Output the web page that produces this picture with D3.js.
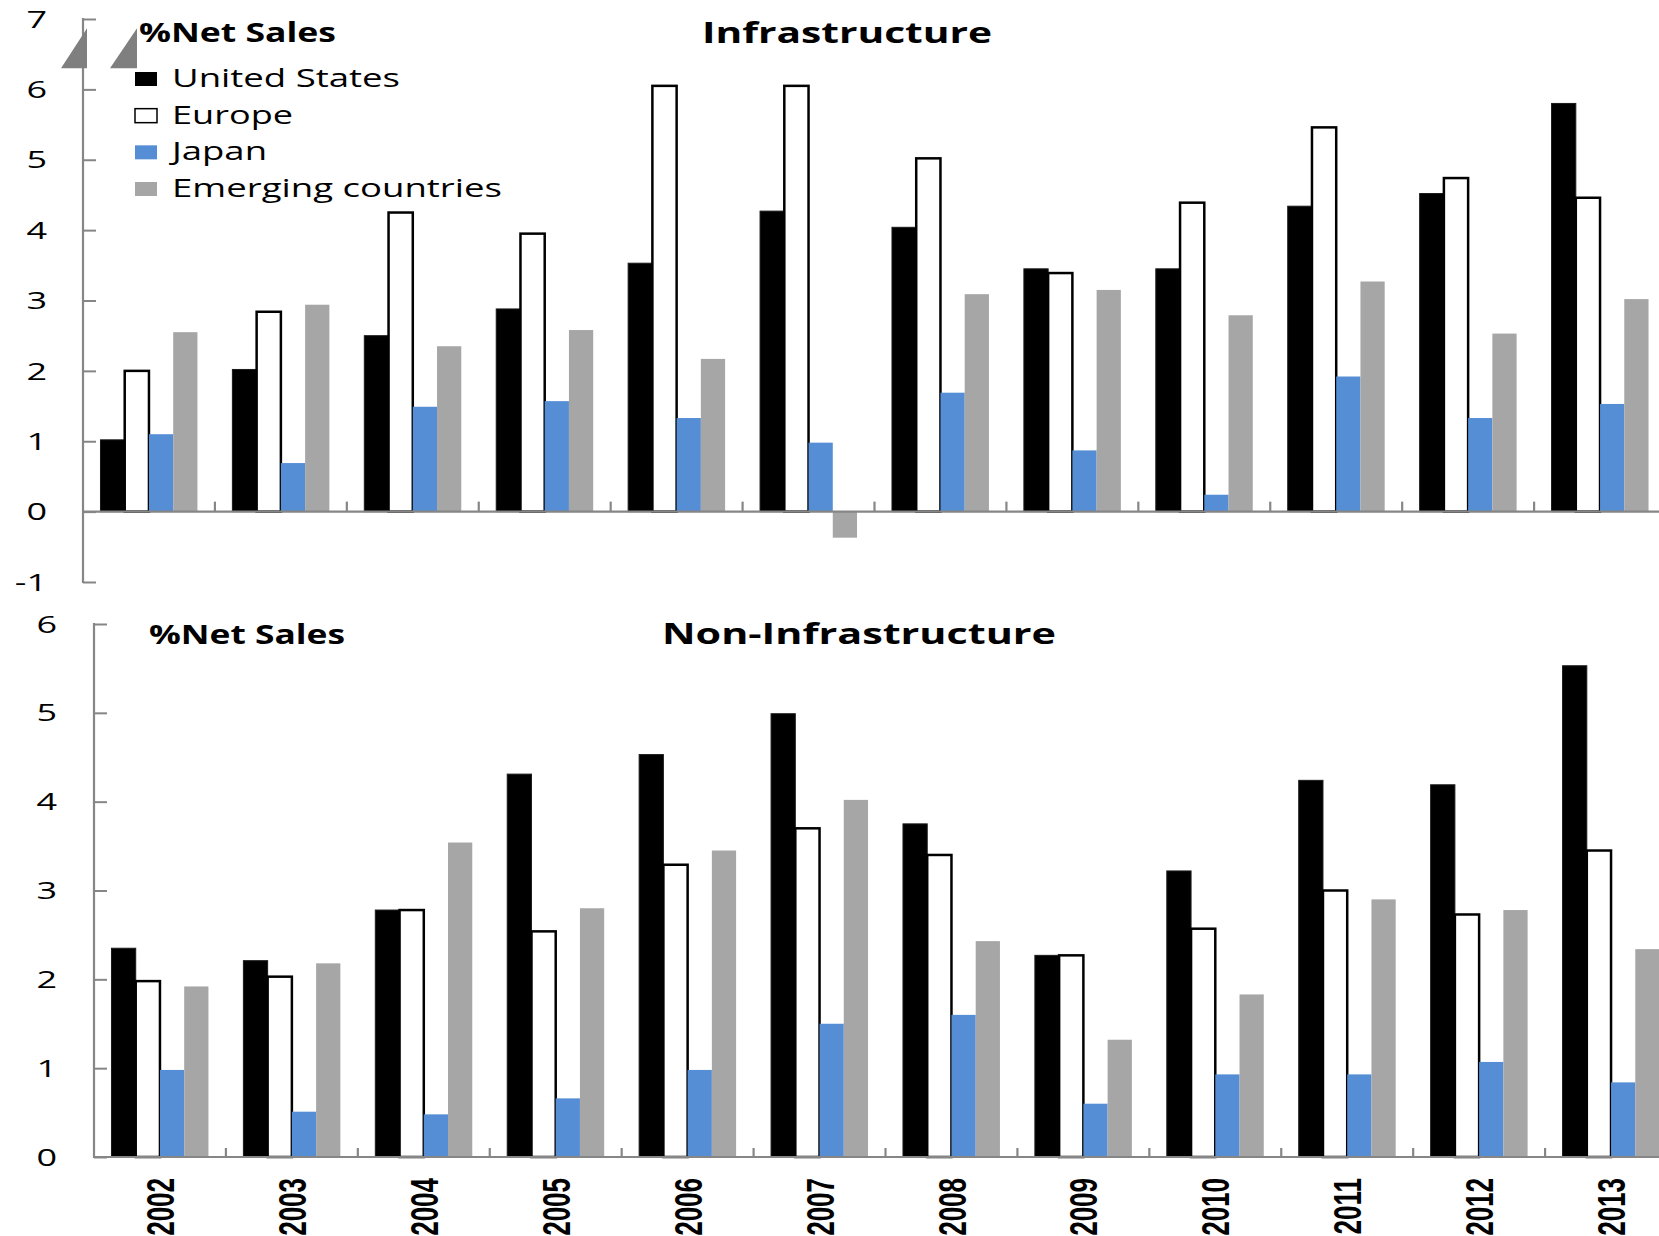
<!DOCTYPE html>
<html><head><meta charset="utf-8">
<script src="https://cdn.jsdelivr.net/npm/d3@7"></script>
<style>html,body{margin:0;padding:0;background:#fff;overflow:hidden;}svg{display:block;}</style>
</head><body>
<script>
const years = ['2002','2003','2004','2005','2006','2007','2008','2009','2010','2011','2012','2013'];
const seriesNames = ['United States','Europe','Japan','Emerging countries'];
const seriesColors = ['#000000','#ffffff','#558ED5','#A6A6A6'];
const infraUS = [1.02,2.02,2.50,2.88,3.53,4.27,4.04,3.45,3.45,4.34,4.52,5.80];
const infraEU = [2.00,2.84,4.25,3.95,6.05,6.05,5.02,3.39,4.39,5.46,4.74,4.46];
const infraJP = [1.10,0.69,1.49,1.57,1.33,0.98,1.69,0.87,0.24,1.92,1.33,1.53];
const infraEM = [2.55,2.94,2.35,2.58,2.17,-0.37,3.09,3.15,2.79,3.27,2.53,3.02];
const nonUS = [2.35,2.21,2.78,4.31,4.53,4.99,3.75,2.27,3.22,4.24,4.19,5.53];
const nonEU = [1.98,2.03,2.78,2.54,3.29,3.70,3.40,2.27,2.57,3.00,2.73,3.45];
const nonJP = [0.98,0.51,0.48,0.66,0.98,1.50,1.60,0.60,0.93,0.93,1.07,0.84];
const nonEM = [1.92,2.18,3.54,2.80,3.45,4.02,2.43,1.32,1.83,2.90,2.78,2.34];
const topTicks = [-1,0,1,2,3,4,5,6,7];
const bottomTicks = [0,1,2,3,4,5,6];

const W = 1659, H = 1236;
const axisColor = '#868686';
const svg = d3.select('body').append('svg').attr('width', W).attr('height', H);
svg.append('rect').attr('width', W).attr('height', H).attr('fill', '#fff');

function stretch(sel, factor) {
  sel.each(function(){
    const len = this.getComputedTextLength();
    d3.select(this).attr('textLength', len*factor).attr('lengthAdjust','spacingAndGlyphs');
  });
}
function fitWidth(sel, w) {
  sel.attr('textLength', w).attr('lengthAdjust','spacingAndGlyphs');
}

function panel(cfg) {
  const x = d3.scaleBand().domain(years).range([cfg.x0, cfg.x1]).paddingInner(0.265).paddingOuter(0.1325);
  const xs = d3.scaleBand().domain(seriesNames).range([0, x.bandwidth()]).padding(0);
  const y = d3.scaleLinear().domain(cfg.domain).range([cfg.yBottom, cfg.yTop]);
  const g = svg.append('g');
  const data = cfg.series;
  seriesNames.forEach((s, si) => {
    g.append('g').selectAll('rect').data(years).join('rect')
      .attr('x', d => x(d) + xs(s))
      .attr('width', xs.bandwidth())
      .attr('y', (d,i) => y(Math.max(0, data[si][i])))
      .attr('height', (d,i) => Math.abs(y(data[si][i]) - y(0)))
      .attr('fill', seriesColors[si])
      .attr('stroke', si === 1 ? '#000' : (si===0 ? '#1a1a1a' : 'none'))
      .attr('stroke-width', si === 1 ? 2.5 : (si===0?1:0));
  });
  const yAxis = d3.axisRight(y).tickValues(cfg.ticks).tickSize(13).tickFormat('');
  const ya = g.append('g').attr('transform', `translate(${cfg.x0},0)`).call(yAxis);
  ya.select('.domain').remove();
  ya.selectAll('line').attr('stroke', axisColor).attr('stroke-width', 2);
  g.append('line').attr('x1', cfg.x0).attr('x2', cfg.x0)
    .attr('y1', y(cfg.domain[1]) - 1).attr('y2', y(cfg.domain[0]) + 1)
    .attr('stroke', axisColor).attr('stroke-width', 2.2);
  g.append('g').selectAll('text').data(cfg.ticks).join('text')
    .attr('x', cfg.labelRight).attr('y', d => y(d)).attr('dy', '0.36em')
    .attr('text-anchor', 'end')
    .attr('font-family', 'Open Sans, sans-serif').attr('font-size', 24)
    .attr('fill', '#000').text(d => d)
    .call(stretch, 1.5);
  const bounds = years.slice(1).map(d => x(d) - x.step()*x.paddingInner()/2);
  g.append('g').selectAll('line').data(bounds).join('line')
    .attr('x1', d => d).attr('x2', d => d)
    .attr('y1', y(0)).attr('y2', y(0) - cfg.xTick)
    .attr('stroke', axisColor).attr('stroke-width', 2.2);
  g.append('line').attr('x1', cfg.x0).attr('x2', cfg.x1)
    .attr('y1', y(0)).attr('y2', y(0))
    .attr('stroke', axisColor).attr('stroke-width', 2.2);
  return {x, y, g};
}

const topPanel = panel({x0: 83, x1: 1666, yTop: 19, yBottom: 582, domain: [-1, 7], ticks: topTicks,
  series: [infraUS, infraEU, infraJP, infraEM], labelRight: 47, xTick: 10});
const botPanel = panel({x0: 94, x1: 1677, yTop: 624, yBottom: 1157, domain: [0, 6], ticks: bottomTicks,
  series: [nonUS, nonEU, nonJP, nonEM], labelRight: 57, xTick: 9});

svg.append('g').selectAll('text').data(years).join('text')
  .attr('transform', d => `translate(${botPanel.x(d) + botPanel.x.bandwidth()/2},1178) scale(1.5,1) rotate(-90)`)
  .attr('text-anchor', 'end').attr('dy', '0.36em')
  .attr('font-family', 'Liberation Sans, Arial, sans-serif').attr('font-weight', 'bold')
  .attr('font-size', 26).attr('fill', '#000').text(d => d);

svg.append('text').attr('x', 702).attr('y', 43).attr('font-family', 'Open Sans, sans-serif')
  .attr('font-weight', 'bold').attr('font-size', 29).text('Infrastructure').call(fitWidth, 290);
svg.append('text').attr('x', 662).attr('y', 644).attr('font-family', 'Open Sans, sans-serif')
  .attr('font-weight', 'bold').attr('font-size', 29).text('Non-Infrastructure').call(fitWidth, 394);
svg.append('text').attr('x', 139).attr('y', 42).attr('font-family', 'Open Sans, sans-serif')
  .attr('font-weight', 'bold').attr('font-size', 26).text('%Net Sales').call(fitWidth, 197);
svg.append('text').attr('x', 149).attr('y', 644).attr('font-family', 'Open Sans, sans-serif')
  .attr('font-weight', 'bold').attr('font-size', 26).text('%Net Sales').call(fitWidth, 196);

const legendWidths = [228, 121, 95, 330];
const legendY = d3.scalePoint().domain(seriesNames).range([87, 197]);
const lg = svg.append('g');
seriesNames.forEach((s, i) => {
  lg.append('rect').attr('x', 135).attr('y', legendY(s) - 15).attr('width', 22).attr('height', 14)
    .attr('fill', seriesColors[i]).attr('stroke', i === 1 ? '#000' : 'none').attr('stroke-width', 1.5);
  lg.append('text').attr('x', 172).attr('y', legendY(s)).attr('font-family', 'Open Sans, sans-serif')
    .attr('font-size', 25).attr('fill', '#000').text(s).call(fitWidth, legendWidths[i]);
});

const wedgeTop = topPanel.y(6.87), wedgeBot = topPanel.y(6.3);
[[61, 87], [110, 137]].forEach(([a, b]) => {
  const p = d3.path();
  p.moveTo(a, wedgeBot); p.lineTo(b, wedgeBot); p.lineTo(b, wedgeTop); p.closePath();
  svg.append('path').attr('d', p.toString()).attr('fill', '#7f7f7f');
});
</script>
</body></html>
